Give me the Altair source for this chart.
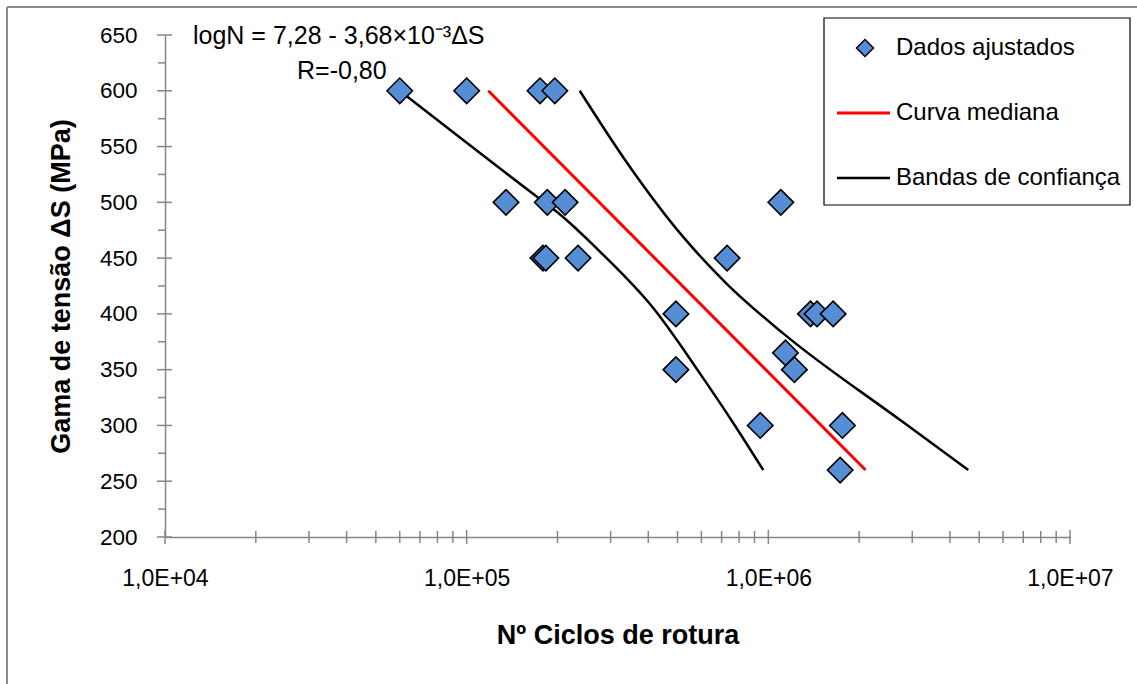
import altair as alt
import pandas as pd

# ---- data ----
pts_N = [6.0e4, 1.0e5, 1.75e5, 1.96e5, 1.35e5, 1.85e5, 2.12e5, 1.79e5, 1.83e5, 2.34e5,
         4.94e5, 4.94e5, 7.3e5, 1.10e6, 1.38e6, 1.45e6, 1.64e6, 1.14e6, 1.22e6, 9.4e5,
         1.76e6, 1.73e6]
pts_S = [600, 600, 600, 600, 500, 500, 500, 450, 450, 450,
         400, 350, 450, 500, 400, 400, 400, 365, 350, 300,
         300, 260]

median_N = [1.18e5, 2.10e6]
median_S = [600, 260]

lower_N = [6.0e4, 1.71e5, 1.99e5, 2.77e5, 4.16e5, 5.93e5, 7.66e5, 9.62e5]
lower_S = [600, 505, 491.5, 455.6, 405, 346.7, 302, 260]

upper_N = [2.37e5, 3.35e5, 5.22e5, 7.28e5, 1.12e6, 2.73e6, 4.60e6]
upper_S = [600, 538, 469, 427, 382.5, 305, 260]

x_major = [1e4, 1e5, 1e6, 1e7]
x_minor = [m * d for d in [1e4, 1e5, 1e6] for m in range(2, 10)]
y_major = list(range(200, 651, 50))
y_minor = list(range(225, 651, 50))

legend_labels = ["Dados ajustados", "Curva mediana", "Bandas de confiança"]
formula = "logN = 7,28 - 3,68×10⁻³ΔS"
r_text = "R=-0,80"

W, H = 905, 502
FONT = "Liberation Sans"
AX = "#868686"
BLUE = "#558ED5"

xs = alt.Scale(type="log", domain=[1e4, 1e7], nice=False)
ys = alt.Scale(domain=[200, 650], nice=False, zero=False)

pts = pd.DataFrame({"N": pts_N, "S": pts_S})
med = pd.DataFrame({"N": median_N, "S": median_S})
bands = pd.concat([
    pd.DataFrame({"N": lower_N, "S": lower_S, "b": "lower", "o": range(len(lower_N))}),
    pd.DataFrame({"N": upper_N, "S": upper_S, "b": "upper", "o": range(len(upper_N))}),
])

base_x = alt.X("N:Q", scale=xs,
               axis=alt.Axis(values=x_major, labelExpr="'1,0E+0' + round(log(datum.value)/LN10)",
                             tickSize=0, grid=False, domainColor=AX, domainWidth=1.5,
                             labelFont=FONT, labelFontSize=23, labelColor="black",
                             labelPadding=30, labelFlush=False,
                             title="Nº Ciclos de rotura", titleFont=FONT, titleFontSize=27,
                             titleFontWeight="bold", titleColor="black", titlePadding=32))
base_y = alt.Y("S:Q", scale=ys,
               axis=alt.Axis(values=y_major, tickSize=8, tickOpacity=0,
                             grid=False, domainColor=AX, domainWidth=1.5,
                             labelFont=FONT, labelFontSize=22.5, labelColor="black",
                             labelPadding=20,
                             title="Gama de tensão ΔS (MPa)", titleFont=FONT, titleFontSize=27,
                             titleFontWeight="bold", titleColor="black", titlePadding=24))

band_layer = alt.Chart(bands).mark_line(color="black", strokeWidth=2.5, clip=True,
                                        interpolate="monotone").encode(
    x=base_x, y=base_y, detail="b:N", order="o:Q")
med_layer = alt.Chart(med).mark_line(color="#FF0000", strokeWidth=3, clip=True).encode(
    x=alt.X("N:Q", scale=xs), y=alt.Y("S:Q", scale=ys))
pt_layer = alt.Chart(pts).mark_point(shape="diamond", filled=True, fill=BLUE, stroke="black",
                                     strokeWidth=1.6, size=650, opacity=1).encode(
    x=alt.X("N:Q", scale=xs), y=alt.Y("S:Q", scale=ys))

xt = pd.DataFrame({"N": x_major + x_minor, "k": ["maj"] * len(x_major) + ["min"] * len(x_minor)})
xtick_maj = alt.Chart(xt[xt.k == "maj"]).mark_rule(color=AX, strokeWidth=1.5).encode(
    x=alt.X("N:Q", scale=xs), y=alt.value(H - 7), y2=alt.value(H + 7))
xtick_min = alt.Chart(xt[xt.k == "min"]).mark_rule(color=AX, strokeWidth=1.5).encode(
    x=alt.X("N:Q", scale=xs), y=alt.value(H - 6), y2=alt.value(H + 6))
ytick_maj = alt.Chart(pd.DataFrame({"S": y_major})).mark_rule(color=AX, strokeWidth=1.5).encode(
    y=alt.Y("S:Q", scale=ys), x=alt.value(-8), x2=alt.value(7))
ytick_min = alt.Chart(pd.DataFrame({"S": y_minor})).mark_rule(color=AX, strokeWidth=1.5).encode(
    y=alt.Y("S:Q", scale=ys), x=alt.value(-7), x2=alt.value(0))

ann = alt.Chart(pd.DataFrame({"t": [formula]})).mark_text(
    font=FONT, fontSize=25, align="left", baseline="middle", color="black").encode(
    text="t:N", x=alt.value(28), y=alt.value(1))
ann2 = alt.Chart(pd.DataFrame({"t": [r_text]})).mark_text(
    font=FONT, fontSize=25, align="left", baseline="middle", color="black").encode(
    text="t:N", x=alt.value(132), y=alt.value(36))

# legend
leg_box = alt.Chart(pd.DataFrame({"a": [0]})).mark_rect(fill="white", stroke="black",
                                                        strokeWidth=1.2).encode(
    x=alt.value(659), x2=alt.value(965), y=alt.value(-17), y2=alt.value(170))
leg_pt = alt.Chart(pd.DataFrame({"a": [0]})).mark_point(shape="diamond", filled=True, fill=BLUE,
                                                        stroke="black", strokeWidth=1.5,
                                                        size=290, opacity=1).encode(
    x=alt.value(700), y=alt.value(13))
leg_red = alt.Chart(pd.DataFrame({"a": [0]})).mark_rule(color="#FF0000", strokeWidth=3).encode(
    x=alt.value(672), x2=alt.value(725), y=alt.value(78))
leg_blk = alt.Chart(pd.DataFrame({"a": [0]})).mark_rule(color="black", strokeWidth=2.5).encode(
    x=alt.value(672), x2=alt.value(725), y=alt.value(143))
leg_txt = alt.Chart(pd.DataFrame({"t": legend_labels, "yy": [13, 78, 143]})).mark_text(
    font=FONT, fontSize=24, align="left", baseline="middle", color="black").encode(
    text="t:N", x=alt.value(731), y=alt.Y("yy:Q", scale=None))

# outer frame (top and left edges visible)
frame_top = alt.Chart(pd.DataFrame({"a": [0]})).mark_rule(color="#8C8C8C", strokeWidth=2).encode(
    x=alt.value(-158), x2=alt.value(980), y=alt.value(-28))
frame_left = alt.Chart(pd.DataFrame({"a": [0]})).mark_rule(color="#8C8C8C", strokeWidth=2).encode(
    x=alt.value(-158), y=alt.value(-28), y2=alt.value(660))

chart = alt.layer(
    band_layer, med_layer, pt_layer, xtick_maj, xtick_min, ytick_maj, ytick_min,
    ann, ann2, leg_box, leg_pt, leg_red, leg_blk, leg_txt, frame_top, frame_left
).properties(
    width=W, height=H,
    padding={"left": 165, "top": 35, "right": 67, "bottom": 147},
    autosize=alt.AutoSizeParams(type="none"),
    background="white",
).configure_view(stroke=None)

chart.save("out.html", embed_options={"renderer": "svg", "actions": False})
